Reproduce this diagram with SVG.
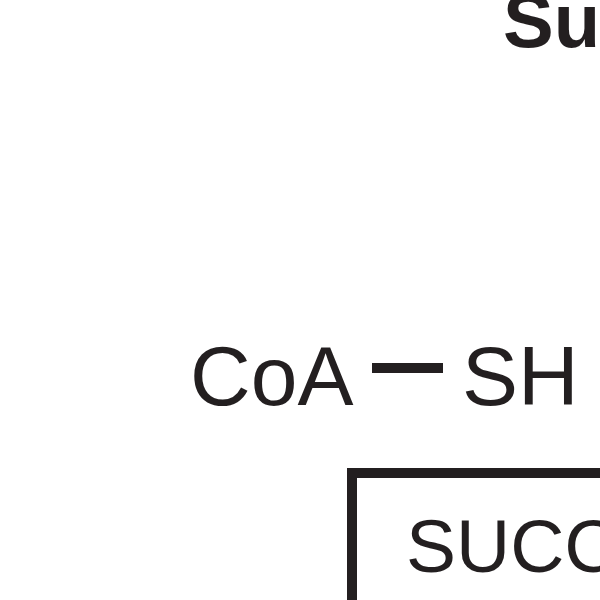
<svg xmlns="http://www.w3.org/2000/svg" width="600" height="600" viewBox="0 0 600 600">
<style>
text{font-family:"Liberation Sans",Arial,sans-serif;fill:#231f20}
</style>
<rect width="600" height="600" fill="#fff"/>
<g id="title"><text x="503" y="47" font-size="76" font-weight="bold">Su</text></g>
<g id="coa-sh">
<text x="190" y="405" font-size="84">CoA</text>
<rect x="372" y="363" width="71" height="10" fill="#231f20"/>
<text x="462" y="405" font-size="84">SH</text>
</g>
<g id="succ-box">
<rect x="352" y="473" width="300" height="200" fill="none" stroke="#231f20" stroke-width="10"/>
<text x="406" y="572" font-size="75">SUCC</text>
</g>
</svg>
